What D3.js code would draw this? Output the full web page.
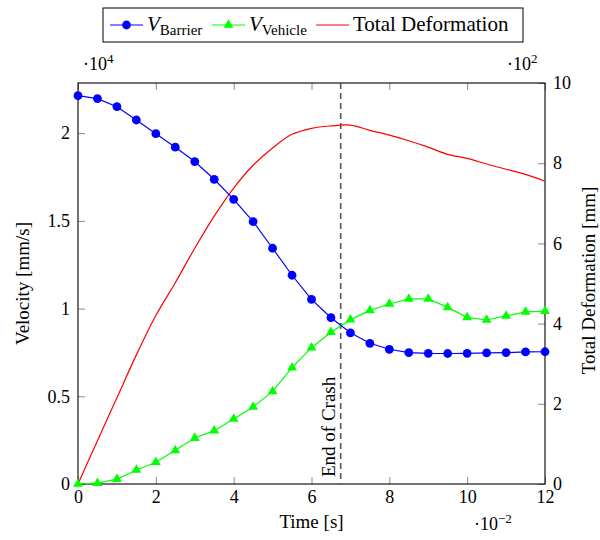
<!DOCTYPE html>
<html>
<head>
<meta charset="utf-8">
<script src="https://cdn.jsdelivr.net/npm/d3@7"></script>
<style>
  body { margin: 0; background: #fff; }
</style>
</head>
<body>
<svg id="chart" width="600" height="540" font-family="Liberation Serif"></svg>
<script>
// Sample times (×10^-2 s)
const time = [0, 0.5, 1, 1.5, 2, 2.5, 3, 3.5, 4, 4.5, 5, 5.5, 6, 6.5, 7, 7.5, 8, 8.5, 9, 9.5, 10, 10.5, 11, 11.5, 12];
// Barrier velocity (×10^4 mm/s)
const vBarrier = [2.214, 2.197, 2.151, 2.075, 1.997, 1.920, 1.838, 1.737, 1.623, 1.496, 1.344, 1.190, 1.052, 0.948, 0.862, 0.802, 0.768, 0.749, 0.745, 0.744, 0.745, 0.747, 0.749, 0.753, 0.754];
// Vehicle velocity (×10^4 mm/s)
const vVehicle = [0, 0.005, 0.028, 0.080, 0.124, 0.192, 0.262, 0.304, 0.371, 0.439, 0.528, 0.663, 0.777, 0.865, 0.937, 0.990, 1.026, 1.055, 1.055, 1.007, 0.950, 0.935, 0.958, 0.981, 0.985];
// Total deformation (×10^2 mm)
const deformation = [0, 1.08, 2.15, 3.22, 4.20, 5.02, 5.88, 6.68, 7.38, 7.95, 8.38, 8.72, 8.87, 8.93, 8.95, 8.82, 8.70, 8.56, 8.40, 8.22, 8.12, 7.98, 7.85, 7.72, 7.55];

const xTicks = [0, 2, 4, 6, 8, 10, 12];
const leftTicks = [0, 0.5, 1, 1.5, 2];
const rightTicks = [0, 2, 4, 6, 8, 10];
const crashEnd = 6.75;

const FONT = "Liberation Serif";
const svg = d3.select("#chart");
const L = 78, R = 545, T = 83, B = 484;

const x = d3.scaleLinear().domain([0, 12]).range([L, R]);
const yL = d3.scaleLinear().domain([0, 2.286]).range([B, T]);
const yR = d3.scaleLinear().domain([0, 10]).range([B, T]);

const tickColor = "#8a8a8a";

function styleAxis(g) {
  g.attr("font-family", FONT);
  g.select(".domain").remove();
  g.selectAll(".tick line").attr("stroke", tickColor).attr("stroke-width", 1);
  g.selectAll(".tick text").attr("font-size", 18).attr("font-family", FONT).attr("fill", "#000");
}

// bottom axis with inward ticks
svg.append("g").attr("transform", `translate(0,${B})`)
  .call(d3.axisBottom(x).tickValues(xTicks).tickFormat(d3.format("d")).tickSizeInner(-7).tickSizeOuter(0).tickPadding(6))
  .call(styleAxis);
// mirrored top ticks
svg.append("g").attr("transform", `translate(0,${T})`)
  .call(d3.axisTop(x).tickValues(xTicks).tickFormat("").tickSizeInner(-7).tickSizeOuter(0))
  .call(styleAxis);
// left axis (velocity)
svg.append("g").attr("transform", `translate(${L},0)`)
  .call(d3.axisLeft(yL).tickValues(leftTicks).tickFormat(d => String(d)).tickSizeInner(-7).tickSizeOuter(0).tickPadding(8))
  .call(styleAxis);
// right axis (deformation)
svg.append("g").attr("transform", `translate(${R},0)`)
  .call(d3.axisRight(yR).tickValues(rightTicks).tickFormat(d3.format("d")).tickSizeInner(-7).tickSizeOuter(0).tickPadding(8))
  .call(styleAxis);

// frame
svg.append("rect").attr("x", L).attr("y", T).attr("width", R - L).attr("height", B - T)
  .attr("fill", "none").attr("stroke", "#000").attr("stroke-width", 1.1);

// end-of-crash marker
svg.append("line")
  .attr("x1", x(crashEnd)).attr("x2", x(crashEnd)).attr("y1", T).attr("y2", B)
  .attr("stroke", "#555").attr("stroke-width", 1.6).attr("stroke-dasharray", "6,4");
svg.append("text")
  .attr("transform", `translate(${x(crashEnd) - 6},${B - 7}) rotate(-90)`)
  .attr("font-family", FONT).attr("font-size", 19).text("End of Crash");

const rows = time.map((t, i) => ({ t, b: vBarrier[i], v: vVehicle[i], d: deformation[i] }));

// total deformation (right axis)
svg.append("path").datum(rows)
  .attr("fill", "none").attr("stroke", "#ff0000").attr("stroke-width", 1.2)
  .attr("d", d3.line().curve(d3.curveCatmullRom.alpha(0.5)).x(d => x(d.t)).y(d => yR(d.d)));

// vehicle velocity
svg.append("path").datum(rows)
  .attr("fill", "none").attr("stroke", "#00ff00").attr("stroke-width", 1.2)
  .attr("d", d3.line().x(d => x(d.t)).y(d => yL(d.v)));
const tri = d3.symbol().type(d3.symbolTriangle).size(42);
svg.append("g").selectAll("path").data(rows).join("path")
  .attr("transform", d => `translate(${x(d.t)},${yL(d.v)})`)
  .attr("d", tri).attr("fill", "#00ff00");

// barrier velocity
svg.append("path").datum(rows)
  .attr("fill", "none").attr("stroke", "#0000ff").attr("stroke-width", 1.2)
  .attr("d", d3.line().x(d => x(d.t)).y(d => yL(d.b)));
svg.append("g").selectAll("circle").data(rows).join("circle")
  .attr("cx", d => x(d.t)).attr("cy", d => yL(d.b)).attr("r", 4.4).attr("fill", "#0000ff");

// axis labels
svg.append("text").attr("x", (L + R) / 2).attr("y", 528).attr("text-anchor", "middle")
  .attr("font-family", FONT).attr("font-size", 19).text("Time [s]");
svg.append("text").attr("transform", `translate(29,${(T + B) / 2}) rotate(-90)`)
  .attr("text-anchor", "middle").attr("font-family", FONT).attr("font-size", 19).text("Velocity [mm/s]");
svg.append("text").attr("transform", `translate(595,${(T + B) / 2 - 3}) rotate(-90)`)
  .attr("text-anchor", "middle").attr("font-family", FONT).attr("font-size", 19).text("Total Deformation [mm]");

// scale exponents
function expLabel(px, py, exp) {
  const t = svg.append("text").attr("x", px).attr("y", py).attr("font-family", FONT).attr("font-size", 18);
  t.append("tspan").text("·10");
  t.append("tspan").attr("dy", -7).attr("font-size", 13).text(exp);
}
expLabel(83, 70, "4");
expLabel(507, 70, "2");
expLabel(474, 530, "−2");

// legend
const lg = svg.append("g");
lg.append("rect").attr("x", 103).attr("y", 8).attr("width", 420).attr("height", 34)
  .attr("fill", "#fff").attr("stroke", "#000").attr("stroke-width", 1);
const ly = 25;
lg.append("line").attr("x1", 110).attr("x2", 143).attr("y1", ly).attr("y2", ly).attr("stroke", "#0000ff").attr("stroke-width", 1.2);
lg.append("circle").attr("cx", 126.5).attr("cy", ly).attr("r", 4.4).attr("fill", "#0000ff");
lg.append("line").attr("x1", 212).attr("x2", 245).attr("y1", ly).attr("y2", ly).attr("stroke", "#00ff00").attr("stroke-width", 1.2);
lg.append("path").attr("transform", `translate(228.5,${ly})`).attr("d", tri).attr("fill", "#00ff00");
lg.append("line").attr("x1", 316).attr("x2", 349).attr("y1", ly).attr("y2", ly).attr("stroke", "#ff0000").attr("stroke-width", 1.2);

function subLabel(px, main, sub) {
  const t = lg.append("text").attr("x", px).attr("y", 31).attr("font-family", FONT).attr("font-size", 21);
  t.append("tspan").attr("font-style", "italic").text(main);
  t.append("tspan").attr("dy", 4).attr("font-size", 15).text(sub);
}
subLabel(147, "V", "Barrier");
subLabel(249, "V", "Vehicle");
lg.append("text").attr("x", 353).attr("y", 31).attr("font-family", FONT).attr("font-size", 21).text("Total Deformation");
</script>
</body>
</html>
